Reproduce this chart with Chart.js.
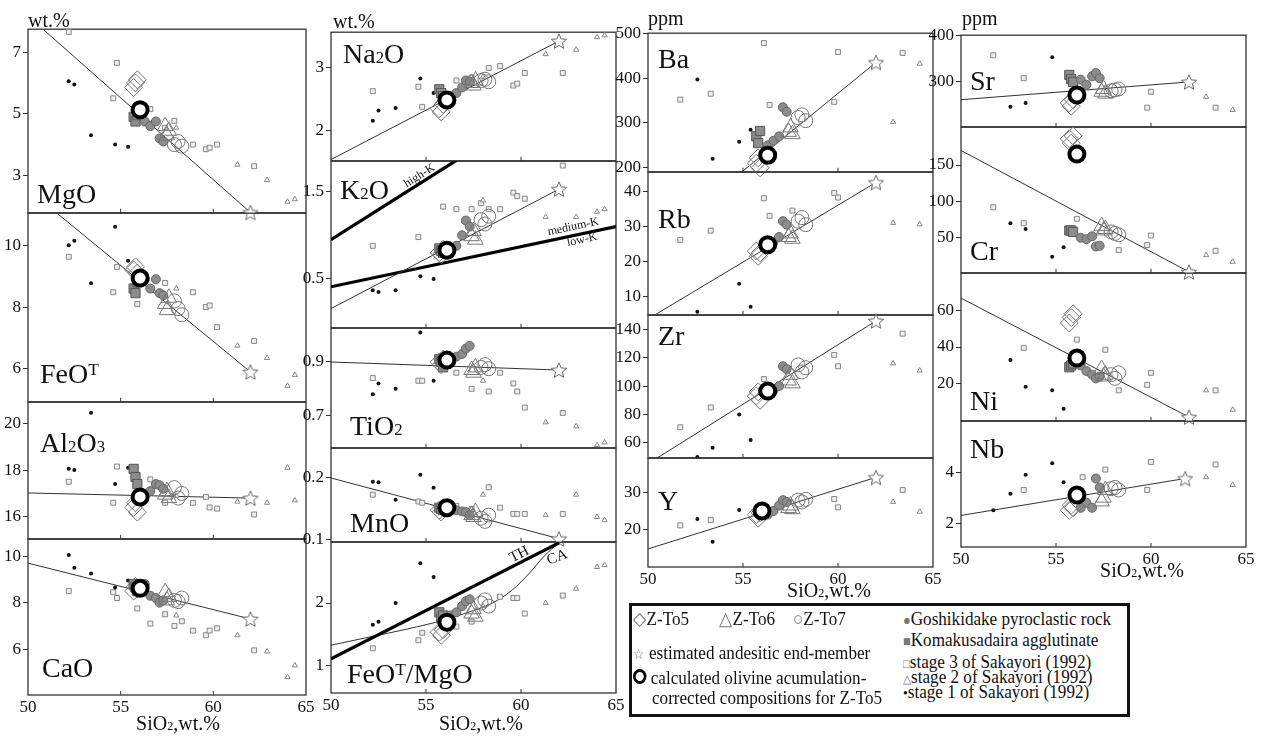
<!DOCTYPE html>
<html>
<head>
<meta charset="utf-8">
<script src="https://cdn.jsdelivr.net/npm/chart.js@4.4.1/dist/chart.umd.min.js"></script>
<style>
  body { margin: 0; background: #fff; width: 1263px; height: 738px; position: relative; overflow: hidden;
         font-family: "Liberation Serif", "Times New Roman", serif; color: #111; }
  canvas { position: absolute; }
  .t { position: absolute; white-space: nowrap; line-height: 1; }
  .sb { font-size: 60%; }
  .sp { font-size: 62%; position: relative; top: -0.42em; }
  .g { color: #777; }
  #legend { position: absolute; left: 629px; top: 603px; width: 495px; height: 108px; border: 3px solid #111; }
  .bold-o { display: inline-block; width: 9px; height: 9px; border: 3px solid #000; border-radius: 50%; }
</style>
</head>
<body>
<div id="legend"></div>
<script>
// SiO2 (wt.%) of each sample group
const siZTo5 = [55.7, 55.8, 55.9];
const siZTo6 = [57.4, 57.5, 57.6];
const siZTo7 = [57.9, 58.1, 58.3];
const siGosh = [56.3, 56.6, 56.9, 57.1, 57.3];
const siKoma = [55.7, 55.8, 55.9];
const siSt1 = [52.2, 52.5, 53.4, 54.7, 55.4];
const siSt2 = [58.0, 61.3, 62.9, 64.0, 64.4];
const siSt3 = [52.2, 54.6, 54.8, 55.9, 56.6, 57.4, 57.9, 58.3, 58.9, 59.6, 59.8, 60.2, 62.2];
// Sakayori (1992) samples with trace-element data
const siSt1Tr = [51.7, 52.6, 53.4, 54.8, 55.4];
const siSt2Tr = [62.9, 64.3];
const siSt3Tr = [51.7, 53.3, 56.1, 56.4, 57.6, 58.3, 59.8, 60.0, 63.4];

const siTicks = [50, 55, 60, 65];

// order of values in every list: Z-To5, Z-To6, Z-To7, Goshikidake, Komakusadaira, stage 1, stage 2, stage 3
const mgoZ5 = [5.85, 6.0, 6.1], mgoZ6 = [4.6, 4.3, 4.45], mgoZ7 = [4.0, 4.1, 3.95];
const mgoGosh = [4.75, 4.6, 4.75, 4.2, 4.1], mgoKoma = [4.9, 4.75, 4.95];
const mgoSt1 = [6.05, 5.95, 4.3, 4.0, 3.93], mgoSt2 = [4.55, 3.35, 2.85, 2.15, 2.23];
const mgoSt3 = [7.65, 5.5, 6.65, 5.15, 5.15, 4.55, 4.77, null, 4.0, 3.85, 3.9, 4.0, 3.3];
const mgoMix = [[50, 8.17], [62, 1.8]];

const feoZ5 = [9.2, 9.3, 9.1], feoZ6 = [8.1, 7.9, 8.3], feoZ7 = [8.2, 7.95, 7.75];
const feoGosh = [8.9, 8.6, 8.9, 8.45, 8.38], feoKoma = [8.6, 8.45, 8.8];
const feoSt1 = [10.0, 10.15, 8.77, 10.6, 9.5], feoSt2 = [8.6, 6.75, 6.35, 5.45, 5.8];
const feoSt3 = [9.63, 8.48, 9.3, 8.1, null, 8.78, null, null, 8.48, 8.0, 8.05, 7.35, 6.9];
const feoMix = [[50, 11.81], [62, 5.9]];

const alZ5 = [16.4, 16.6, 16.2], alZ6 = [16.95, 17.1, 16.8], alZ7 = [17.25, 16.8, 17.0];
const alGosh = [16.9, 17.1, 17.4, 17.35, 17.2], alKoma = [18.05, 17.7, 17.4];
const alSt1 = [18.05, 18.0, 20.45, 17.4, 18.1], alSt2 = [16.9, 16.65, 16.6, 18.1, 16.7];
const alSt3 = [17.5, 16.6, 18.15, null, 17.6, 16.6, null, null, 16.6, 16.85, 16.4, 16.35, 16.1];
const alMix = [[50, 17.02], [62, 16.8]];

const caoZ5 = [8.5, 8.7, 8.6], caoZ6 = [8.45, 8.1, 8.25], caoZ7 = [8.1, 8.05, 8.2];
const caoGosh = [8.8, 8.3, 8.2, 8.0, 8.1], caoKoma = [8.8, 8.65, 8.5];
const caoSt1 = [10.05, 9.5, 9.25, 8.65, 8.95], caoSt2 = [7.45, 6.6, 5.9, 4.8, 5.3];
const caoSt3 = [8.5, 8.45, 8.2, 7.75, 7.1, 7.5, 7.0, 7.2, 6.8, 6.6, 6.8, 6.9, 5.95];
const caoMix = [[50, 9.7], [62, 7.3]];

const naZ5 = [2.35, 2.3, 2.42], naZ6 = [2.76, 2.72, 2.8], naZ7 = [2.8, 2.82, 2.78];
const naGosh = [2.55, 2.6, 2.69, 2.8, 2.78], naKoma = [2.66, 2.6, 2.55];
const naSt1 = [2.16, 2.32, 2.36, 2.83, 2.6], naSt2 = [2.86, 3.22, 3.29, 3.49, 3.52];
const naSt3 = [2.63, 2.7, 2.38, null, 2.8, 2.85, null, 3.0, 3.03, 2.72, 2.75, 2.92, 2.92];
const naMix = [[50, 1.54], [62, 3.43]];

const kZ5 = [0.8, 0.78, 0.84], kZ6 = [0.99, 1.05, 0.95], kZ7 = [1.18, 1.13, 1.22];
const kGosh = [0.85, 0.88, 1.0, 1.17, 1.1], kKoma = [0.85, 0.82, 0.8];
const kSt1 = [0.37, 0.35, 0.37, 0.53, 0.5], kSt2 = [1.4, 1.21, 1.21, 1.27, 1.3];
const kSt3 = [0.88, 0.98, null, 1.33, 1.3, 1.3, 1.37, 1.3, 1.3, 1.49, 1.45, 1.42, 1.8];
const kMix = [[50, 0.16], [62, 1.53]];
const kHighBound = [[50, 0.95], [56.6, 1.86]];
const kLowBound = [[50, 0.41], [65, 1.1]];

const tiZ5 = [0.9, 0.89, 0.91], tiZ6 = [0.87, 0.86, 0.88], tiZ7 = [0.88, 0.89, 0.875];
const tiGosh = [0.9, 0.92, 0.93, 0.95, 0.96], tiKoma = [0.91, 0.9, 0.88];
const tiSt1 = [0.78, 0.82, 0.80, 1.01, 0.83], tiSt2 = [0.83, 0.675, 0.66, 0.59, 0.6];
const tiSt3 = [0.84, 0.83, 0.83, null, 0.86, 0.8, null, 0.79, 0.86, 0.82, 0.79, 0.73, 0.71];
const tiMix = [[50, 0.9], [62, 0.87]];

const mnZ5 = [0.148, 0.145, 0.152], mnZ6 = [0.14, 0.137, 0.145], mnZ7 = [0.135, 0.13, 0.14];
const mnGosh = [0.15, 0.148, 0.146, 0.145, 0.14], mnKoma = [0.152, 0.15, 0.148];
const mnSt1 = [0.194, 0.193, 0.165, 0.205, 0.184], mnSt2 = [0.173, 0.14, 0.173, 0.137, 0.132];
const mnSt3 = [0.173, 0.162, 0.16, null, 0.155, 0.15, null, 0.185, 0.152, 0.142, 0.142, 0.142, 0.142];
const mnMix = [[50, 0.2], [62, 0.102]];

const fmZ5 = [1.53, 1.48, 1.57], fmZ6 = [1.83, 1.9, 1.78], fmZ7 = [2.0, 2.05, 1.95];
const fmGosh = [1.8, 1.85, 1.95, 2.03, 2.06], fmKoma = [1.85, 1.75, 1.8];
const fmSt1 = [1.65, 1.7, 2.0, 2.64, 2.42], fmSt2 = [1.95, 2.0, 2.23, 2.58, 2.61];
const fmSt3 = [1.27, 1.4, 1.52, null, 1.62, 1.7, null, null, 2.1, 2.08, 2.08, 1.83, 2.12];
const fmTH = [[50, 1.1], [62, 2.97]];
const fmCA = [[50, 1.32], [52, 1.45], [54, 1.58], [56, 1.73], [57.5, 1.88], [58.5, 2.0], [59.5, 2.2], [60.5, 2.5], [61.2, 2.75], [62, 2.97]];

const baZ5 = [210, 222, 200], baZ6 = [280, 290, 275], baZ7 = [312, 318, 305];
const baGosh = [250, 260, 270, 335, 325], baKoma = [270, 255, 282];
const baSt1 = [null, 397, 220, 258, 285], baSt2 = [302, 432];
const baSt3 = [352, 365, 478, 340, null, null, 347, 458, 456];
const baMix = [[50, 20], [62, 435]];

const rbZ5 = [23, 21.5, 22.5], rbZ6 = [27, 28, 26.5], rbZ7 = [31.5, 32.5, 30.5];
const rbGosh = [24, 25.5, 27, 31.5, 30.5], rbKoma = [];
const rbSt1 = [null, 5.8, null, 13.7, 7.2], rbSt2 = [31, 30.6];
const rbSt3 = [26.2, 28.8, 38, 33, 34.5, null, 39.5, 38.2, null];
const rbMix = [[50, 3.7], [62, 42.5]];

const zrZ5 = [93, 96, 90], zrZ6 = [104, 108, 102], zrZ7 = [115, 110, 113];
const zrGosh = [95, 97, 100, 114, 112], zrKoma = [];
const zrSt1 = [null, 50, 56.5, 80, 62], zrSt2 = [116, 111];
const zrSt3 = [71, 85, 105, null, null, null, 122, 114, 137];
const zrMix = [[50, 45.3], [62, 146]];

const yZ5 = [24, 23, 24.5], yZ6 = [25.8, 26.5, 25.5], yZ7 = [28, 27.5, 28.2];
const yGosh = [24, 25, 26.5, 28, 27.5], yKoma = [];
const ySt1 = [null, 22.8, 16.5, 25.3, null], ySt2 = [27.5, 24.8];
const ySt3 = [21, 22.5, null, null, null, null, 28.3, 26, 30.8];
const yMix = [[50, 14.5], [62, 34.3]];

const srZ5 = [255, 248, 262], srZ6 = [279, 285, 275], srZ7 = [281, 283, 285];
const srGosh = [305, 294, 312, 319, 308], srKoma = [315, 306, 300];
const srSt1 = [null, 247, 255, 353, null], srSt2 = [268, 240];
const srSt3 = [357, 308, null, null, null, null, 245, 279, 245];
const srMix = [[50, 262], [62, 300]];

const crZ5 = [186, 180, 190], crZ6 = [66, 60, 62], crZ7 = [58, 56, 54];
const crGosh = [50, 48, 52, 38, 39], crKoma = [60, 60, 58];
const crSt1 = [null, 70, 62, 24, 37], crSt2 = [26, 17];
const crSt3 = [92, 70, 76, null, null, 33, 40, 53, 32];
const crMix = [[50, 170], [62, 3]];

const niZ5 = [53, 56, 58], niZ6 = [28, 24, 25], niZ7 = [25, 23, 26];
const niGosh = [30, 27, 25, 23, 24], niKoma = [29, 30, 31];
const niSt1 = [null, 33, 18.4, 16.5, 6.5], niSt2 = [16.5, 6];
const niSt3 = [null, 39.5, 44, null, 38.5, 16.5, 19.5, 26, 16.5];
const niMix = [[50, 66.5], [62, 2]];

const nbZ5 = [2.5, 2.7, 2.6], nbZ6 = [2.85, 3.0, 3.3], nbZ7 = [3.35, 3.4, 3.3];
const nbGosh = [2.6, 2.8, 2.6, 3.75, 3.4], nbKoma = [];
const nbSt1 = [2.5, 3.15, 3.9, 4.35, 3.6], nbSt2 = [3.8, 3.5];
const nbSt3 = [null, 3.3, null, 3.8, 4.1, null, 3.3, 4.4, 4.3];
const nbMix = [[50, 2.3], [61.8, 3.75]];

// panel order: MgO FeOT Al2O3 CaO Na2O K2O TiO2 MnO FeOT/MgO Ba Rb Zr Y Sr Cr Ni Nb
const endMember = [[62, 1.8], [62, 5.9], [62, 16.8], [62, 7.3], [62, 3.43], [62, 1.53], [62, 0.87], [62, 0.102], null,
  [62, 435], [62, 42.5], [62, 146], [62, 34.3], [62, 300], [62, 3], [62, 2], [61.8, 3.75]];
const calcComp = [[56.05, 5.13], [56.05, 8.94], [56.05, 16.85], [56.05, 8.62], [56.1, 2.49], [56.1, 0.83], [56.1, 0.907],
  [56.1, 0.152], [56.1, 1.69], [56.3, 228], [56.3, 24.8], [56.3, 96.5], [56.0, 25], [56.1, 272], [56.1, 165], [56.1, 34], [56.1, 3.1]];

// ---------- layout ----------
const COLS = [{ x: 28, w: 278 }, { x: 331, w: 285 }, { x: 648, w: 285 }, { x: 961, w: 285 }];
const PL = 46, PT = 12, PR = 12, PB = 12, PBX = 30;
const FONT = 'Liberation Serif';

const PANELS = [
  { col: 0, top: 29, bottom: 213, min: 1.79, max: 7.74, ticks: [3, 5, 7], sets: [mgoZ5, mgoZ6, mgoZ7, mgoGosh, mgoKoma, mgoSt1, mgoSt2, mgoSt3], lines: [[mgoMix, 1]] },
  { col: 0, top: 213, bottom: 402, min: 4.93, max: 11.04, ticks: [6, 8, 10], sets: [feoZ5, feoZ6, feoZ7, feoGosh, feoKoma, feoSt1, feoSt2, feoSt3], lines: [[feoMix, 1]] },
  { col: 0, top: 402, bottom: 539, min: 15.06, max: 20.9, ticks: [16, 18, 20], sets: [alZ5, alZ6, alZ7, alGosh, alKoma, alSt1, alSt2, alSt3], lines: [[alMix, 1]] },
  { col: 0, top: 539, bottom: 695, min: 4.03, max: 10.73, ticks: [6, 8, 10], sets: [caoZ5, caoZ6, caoZ7, caoGosh, caoKoma, caoSt1, caoSt2, caoSt3], lines: [[caoMix, 1]], xAxis: true },
  { col: 1, top: 32, bottom: 161, min: 1.52, max: 3.57, ticks: [2, 3], sets: [naZ5, naZ6, naZ7, naGosh, naKoma, naSt1, naSt2, naSt3], lines: [[naMix, 1]] },
  { col: 1, top: 161, bottom: 328, min: -0.06, max: 1.85, ticks: [0.5, 1.5], sets: [kZ5, kZ6, kZ7, kGosh, kKoma, kSt1, kSt2, kSt3], lines: [[kMix, 1], [kHighBound, 3.2], [kLowBound, 3.2]] },
  { col: 1, top: 328, bottom: 448, min: 0.58, max: 1.026, ticks: [0.7, 0.9], sets: [tiZ5, tiZ6, tiZ7, tiGosh, tiKoma, tiSt1, tiSt2, tiSt3], lines: [[tiMix, 1]] },
  { col: 1, top: 448, bottom: 542, min: 0.097, max: 0.248, ticks: [0.1, 0.2], sets: [mnZ5, mnZ6, mnZ7, mnGosh, mnKoma, mnSt1, mnSt2, mnSt3], lines: [[mnMix, 1]] },
  { col: 1, top: 542, bottom: 693, min: 0.55, max: 2.98, ticks: [1, 2], sets: [fmZ5, fmZ6, fmZ7, fmGosh, fmKoma, fmSt1, fmSt2, fmSt3], lines: [[fmTH, 3.2], [fmCA, 1, 0.4]], xAxis: true },
  { col: 2, top: 33, bottom: 172, min: 191, max: 500, ticks: [200, 300, 400, 500], sets: [baZ5, baZ6, baZ7, baGosh, baKoma, baSt1, baSt2, baSt3], lines: [[baMix, 1]], trace: true },
  { col: 2, top: 172, bottom: 315, min: 4.9, max: 45.4, ticks: [10, 20, 30, 40], sets: [rbZ5, rbZ6, rbZ7, rbGosh, rbKoma, rbSt1, rbSt2, rbSt3], lines: [[rbMix, 1]], trace: true },
  { col: 2, top: 315, bottom: 458, min: 49.5, max: 150, ticks: [60, 80, 100, 120, 140], sets: [zrZ5, zrZ6, zrZ7, zrGosh, zrKoma, zrSt1, zrSt2, zrSt3], lines: [[zrMix, 1]], trace: true },
  { col: 2, top: 458, bottom: 567, min: 9.5, max: 39.6, ticks: [20, 30], sets: [yZ5, yZ6, yZ7, yGosh, yKoma, ySt1, ySt2, ySt3], lines: [[yMix, 1]], trace: true, xAxis: true },
  { col: 3, top: 35, bottom: 127, min: 204, max: 400, ticks: [300, 400], sets: [srZ5, srZ6, srZ7, srGosh, srKoma, srSt1, srSt2, srSt3], lines: [[srMix, 1]], trace: true },
  { col: 3, top: 127, bottom: 273, min: 1.8, max: 202, ticks: [50, 100, 150], sets: [crZ5, crZ6, crZ7, crGosh, crKoma, crSt1, crSt2, crSt3], lines: [[crMix, 1]], trace: true },
  { col: 3, top: 273, bottom: 421, min: 0, max: 80, ticks: [20, 40, 60], sets: [niZ5, niZ6, niZ7, niGosh, niKoma, niSt1, niSt2, niSt3], lines: [[niMix, 1]], trace: true },
  { col: 3, top: 421, bottom: 547, min: 1.06, max: 6, ticks: [2, 4], sets: [nbZ5, nbZ6, nbZ7, nbGosh, nbKoma, nbSt1, nbSt2, nbSt3], lines: [[nbMix, 1]], trace: true, xAxis: true },
];

function starCanvas(r) {
  const c = document.createElement('canvas');
  const s = Math.ceil(2 * r + 4);
  c.width = c.height = s;
  const g = c.getContext('2d');
  g.translate(s / 2, s / 2 + r * 0.1);
  g.beginPath();
  for (let i = 0; i < 10; i++) {
    const rr = i % 2 ? r * 0.45 : r;
    const a = -Math.PI / 2 + i * Math.PI / 5;
    g.lineTo(rr * Math.cos(a), rr * Math.sin(a));
  }
  g.closePath();
  g.fillStyle = '#fff';
  g.fill();
  g.strokeStyle = '#666';
  g.lineWidth = 1;
  g.stroke();
  return c;
}
const starImg = starCanvas(8);

const OPEN = 'rgba(255,255,255,0)';
// styles in the same order as the value lists
const STYLES = [
  { pointStyle: 'rectRot', pointRadius: 9, pointBorderWidth: 1, pointBorderColor: '#777', pointBackgroundColor: OPEN },
  { pointStyle: 'triangle', pointRadius: 9, pointBorderWidth: 1, pointBorderColor: '#777', pointBackgroundColor: OPEN },
  { pointStyle: 'circle', pointRadius: 7, pointBorderWidth: 1, pointBorderColor: '#777', pointBackgroundColor: OPEN },
  { pointStyle: 'circle', pointRadius: 4.5, pointBorderWidth: 1, pointBorderColor: '#666', pointBackgroundColor: '#8c8c8c' },
  { pointStyle: 'rect', pointRadius: 6.5, pointBorderWidth: 1, pointBorderColor: '#555', pointBackgroundColor: '#8c8c8c' },
  { pointStyle: 'circle', pointRadius: 2, pointBorderWidth: 0, pointBorderColor: '#111', pointBackgroundColor: '#111' },
  { pointStyle: 'triangle', pointRadius: 3, pointBorderWidth: 1, pointBorderColor: '#888', pointBackgroundColor: '#fff' },
  { pointStyle: 'rect', pointRadius: 3.5, pointBorderWidth: 1, pointBorderColor: '#888', pointBackgroundColor: '#eee' },
];

function pts(xs, ys) {
  return xs.map((x, i) => ({ x, y: ys[i] })).filter(p => p.y != null && p.y !== undefined);
}

const framePlugin = {
  id: 'frame',
  beforeDatasetsDraw(chart) {
    const { ctx, chartArea: a, scales: { x } } = chart;
    ctx.save();
    ctx.strokeStyle = '#333';
    ctx.lineWidth = 1.3;
    ctx.strokeRect(a.left, a.top, a.right - a.left, a.bottom - a.top);
    ctx.lineWidth = 1;
    [55, 60].forEach(v => {
      const px = x.getPixelForValue(v);
      ctx.beginPath();
      ctx.moveTo(px, a.bottom);
      ctx.lineTo(px, a.bottom - 4);
      ctx.stroke();
    });
    ctx.restore();
  }
};

function buildPanel(p, idx) {
  const col = COLS[p.col];
  const fh = p.bottom - p.top;
  const cv = document.createElement('canvas');
  cv.width = col.w + PL + PR;
  cv.height = PT + fh + (p.xAxis ? PBX : PB);
  cv.style.left = (col.x - PL) + 'px';
  cv.style.top = (p.top - PT) + 'px';
  document.body.appendChild(cv);

  const xs = p.trace
    ? [siZTo5, siZTo6, siZTo7, siGosh, siKoma, siSt1Tr, siSt2Tr, siSt3Tr]
    : [siZTo5, siZTo6, siZTo7, siGosh, siKoma, siSt1, siSt2, siSt3];

  const datasets = [];
  // first dataset is drawn on top
  datasets.push({ data: [{ x: calcComp[idx][0], y: calcComp[idx][1] }], pointStyle: 'circle', pointRadius: 7.5,
    pointBorderWidth: 4, pointBorderColor: '#000', pointBackgroundColor: '#fff', clip: false });
  if (endMember[idx]) {
    datasets.push({ data: [{ x: endMember[idx][0], y: endMember[idx][1] }], pointStyle: starImg, pointRadius: 9, clip: false });
  }
  p.sets.forEach((ys, i) => {
    datasets.push(Object.assign({ data: pts(xs[i], ys), clip: false, showLine: false }, STYLES[i]));
  });
  p.lines.forEach(([line, w, tension]) => {
    datasets.push({ data: line.map(([x, y]) => ({ x, y })), showLine: true, pointRadius: 0, borderColor: w > 2 ? '#000' : '#333',
      borderWidth: w, tension: tension || 0, cubicInterpolationMode: tension ? 'monotone' : 'default', clip: 0 });
  });

  new Chart(cv, {
    type: 'scatter',
    data: { datasets },
    options: {
      responsive: false,
      animation: false,
      devicePixelRatio: 1,
      events: [],
      layout: { padding: { left: 0, top: PT, right: PR, bottom: p.xAxis ? 0 : PB } },
      plugins: { legend: { display: false }, tooltip: { enabled: false } },
      scales: {
        x: {
          type: 'linear', min: 50, max: 65, display: !!p.xAxis,
          afterBuildTicks: s => { s.ticks = siTicks.map(v => ({ value: v })); },
          afterFit: s => { if (p.xAxis) s.height = PBX; },
          grid: { display: false, drawTicks: false },
          border: { display: false },
          ticks: { font: { family: FONT, size: 17 }, color: '#111', padding: 2, maxRotation: 0, callback: v => String(v) }
        },
        y: {
          type: 'linear', min: p.min, max: p.max,
          afterBuildTicks: s => { s.ticks = p.ticks.map(v => ({ value: v })); },
          afterFit: s => { s.width = PL; },
          grid: { drawOnChartArea: false, drawTicks: true, tickLength: 5, color: '#333' },
          border: { display: false },
          ticks: { font: { family: FONT, size: 17 }, color: '#111', padding: 2, callback: v => String(v) }
        }
      }
    },
    plugins: [framePlugin]
  });
}

PANELS.forEach(buildPanel);

// ---------- texts ----------
function text(html, x, base, size, extra) {
  const d = document.createElement('div');
  d.className = 't';
  d.innerHTML = html;
  d.style.left = x + 'px';
  d.style.top = (base - 0.8375 * size) + 'px';
  d.style.fontSize = size + 'px';
  if (extra) Object.assign(d.style, extra);
  document.body.appendChild(d);
  return d;
}
const sub = s => '<span class="sb">' + s + '</span>';
const sup = s => '<span class="sp">' + s + '</span>';

const ELEMENT_LABELS = [
  ['MgO', 37, 203], ['FeO' + sup('T'), 40, 383], ['Al' + sub('2') + 'O' + sub('3'), 40, 452], ['CaO', 42, 677],
  ['Na' + sub('2') + 'O', 343, 63], ['K' + sub('2') + 'O', 340, 199], ['TiO' + sub('2'), 350, 435], ['MnO', 350, 532],
  ['FeO' + sup('T') + '/MgO', 347, 683],
  ['Ba', 658, 68], ['Rb', 658, 228], ['Zr', 658, 345], ['Y', 658, 510],
  ['Sr', 970, 90], ['Cr', 970, 260], ['Ni', 970, 410], ['Nb', 970, 458],
];
ELEMENT_LABELS.forEach(([h, x, b]) => text(h, x, b, 28));

[['wt.%', 28, 27], ['wt.%', 333, 28], ['ppm', 648, 25], ['ppm', 962, 25]].forEach(([h, x, b]) => text(h, x, b, 20));

[[178, 730], [481, 730], [829, 597], [1142, 577]].forEach(([x, b]) =>
  text('SiO' + sub('2') + ',wt.%', x, b, 20, { transform: 'translateX(-50%)' }));

// rotated annotations
[['high-K', 419, 175, 12, -32], ['medium-K', 573, 226, 12, -12], ['low-K', 582, 239, 12, -12],
 ['TH', 519, 554, 15, -27], ['CA', 557, 557, 15, -20]].forEach(([h, x, y, s, r]) => {
  const d = text(h, x, y, s);
  d.style.top = y + 'px';
  d.style.transform = 'translate(-50%,-50%) rotate(' + r + 'deg)';
});

// legend
const LEGEND_ITEMS = [
  ['<span class="g">◇</span>Z-To5', 633, 619], ['<span class="g">△</span>Z-To6', 719, 619], ['<span class="g">○</span>Z-To7', 793, 619],
  ['<span class="g" style="font-size:75%">☆</span> estimated andesitic end-member', 633, 653],
  ['<span class="bold-o"></span> calculated olivine acumulation-', 633, 678],
  ['corrected compositions for Z-To5', 652, 698],
  ['<span class="g" style="font-size:75%">●</span>Goshikidake pyroclastic rock', 903, 619],
  ['<span class="g" style="font-size:75%">■</span>Komakusadaira agglutinate', 903, 640],
  ['<span class="g" style="font-size:65%">□</span>stage 3 of Sakayori (1992)', 903, 662],
  ['<span class="g" style="font-size:65%">△</span>stage 2 of Sakayori (1992)', 903, 677],
  ['<span style="font-size:80%">•</span>stage 1 of Sakayori (1992)', 903, 692],
];
LEGEND_ITEMS.forEach(([h, x, y]) => {
  const d = text(h, x, y, 19);
  d.style.top = (y - 0.51 * 19) + 'px';
  d.style.transform = 'scaleX(0.9)';
  d.style.transformOrigin = '0 50%';
});
</script>
</body>
</html>
